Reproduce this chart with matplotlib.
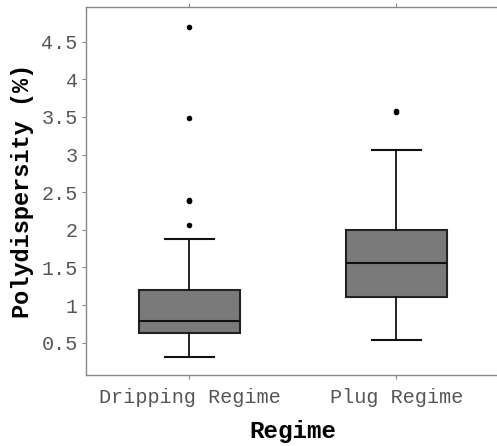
import matplotlib.pyplot as plt

# data
regimes = ['Dripping Regime', 'Plug Regime']
whislo = [0.31, 0.53]
q1 = [0.63, 1.11]
med = [0.79, 1.56]
q3 = [1.20, 2.00]
whishi = [1.88, 3.06]
fliers = [[2.06, 2.38, 2.40, 3.49, 4.70], [3.56, 3.58]]

plt.rcParams['font.family'] = ['Liberation Mono', 'DejaVu Sans Mono']

fig = plt.figure(figsize=(4.97, 4.46), dpi=100)
ax = fig.add_axes([0.173, 0.159, 0.833, 0.825])

stats = []
for i in range(len(regimes)):
    stats.append(dict(label=regimes[i], whislo=whislo[i], q1=q1[i], med=med[i],
                      q3=q3[i], whishi=whishi[i], fliers=fliers[i]))

ax.bxp(stats, positions=[0, 1], widths=0.49, patch_artist=True,
       boxprops=dict(facecolor='#7a7a7a', edgecolor='#222222', linewidth=1.5),
       medianprops=dict(color='#111111', linewidth=1.5),
       whiskerprops=dict(color='#111111', linewidth=1.3),
       capprops=dict(color='#111111', linewidth=1.5),
       capwidths=0.235,
       flierprops=dict(marker='o', markersize=3, markerfacecolor='black',
                       markeredgecolor='black'))

ax.set_xlim(-0.5, 1.5)
ax.set_ylim(0.07, 4.96)
ax.set_yticks([0.5, 1, 1.5, 2, 2.5, 3, 3.5, 4, 4.5])
ax.set_yticklabels(['0.5', '1', '1.5', '2', '2.5', '3', '3.5', '4', '4.5'])
ax.set_xticks([0, 1])
ax.set_xticklabels(regimes)

for s in ax.spines.values():
    s.set_color('#888888')
    s.set_linewidth(1.0)
ax.spines['right'].set_visible(False)

ax.tick_params(axis='both', colors='#888888', labelcolor='#555555',
               labelsize=14.5, length=3, width=0.8)
ax.tick_params(axis='x', top=True, pad=6)
ax.tick_params(axis='y', pad=3)

ax.set_ylabel('Polydispersity (%)', fontsize=17, fontweight='bold', labelpad=5)
ax.set_xlabel('Regime', fontsize=17.5, fontweight='bold', labelpad=10)

plt.savefig('out.png', dpi=100)
